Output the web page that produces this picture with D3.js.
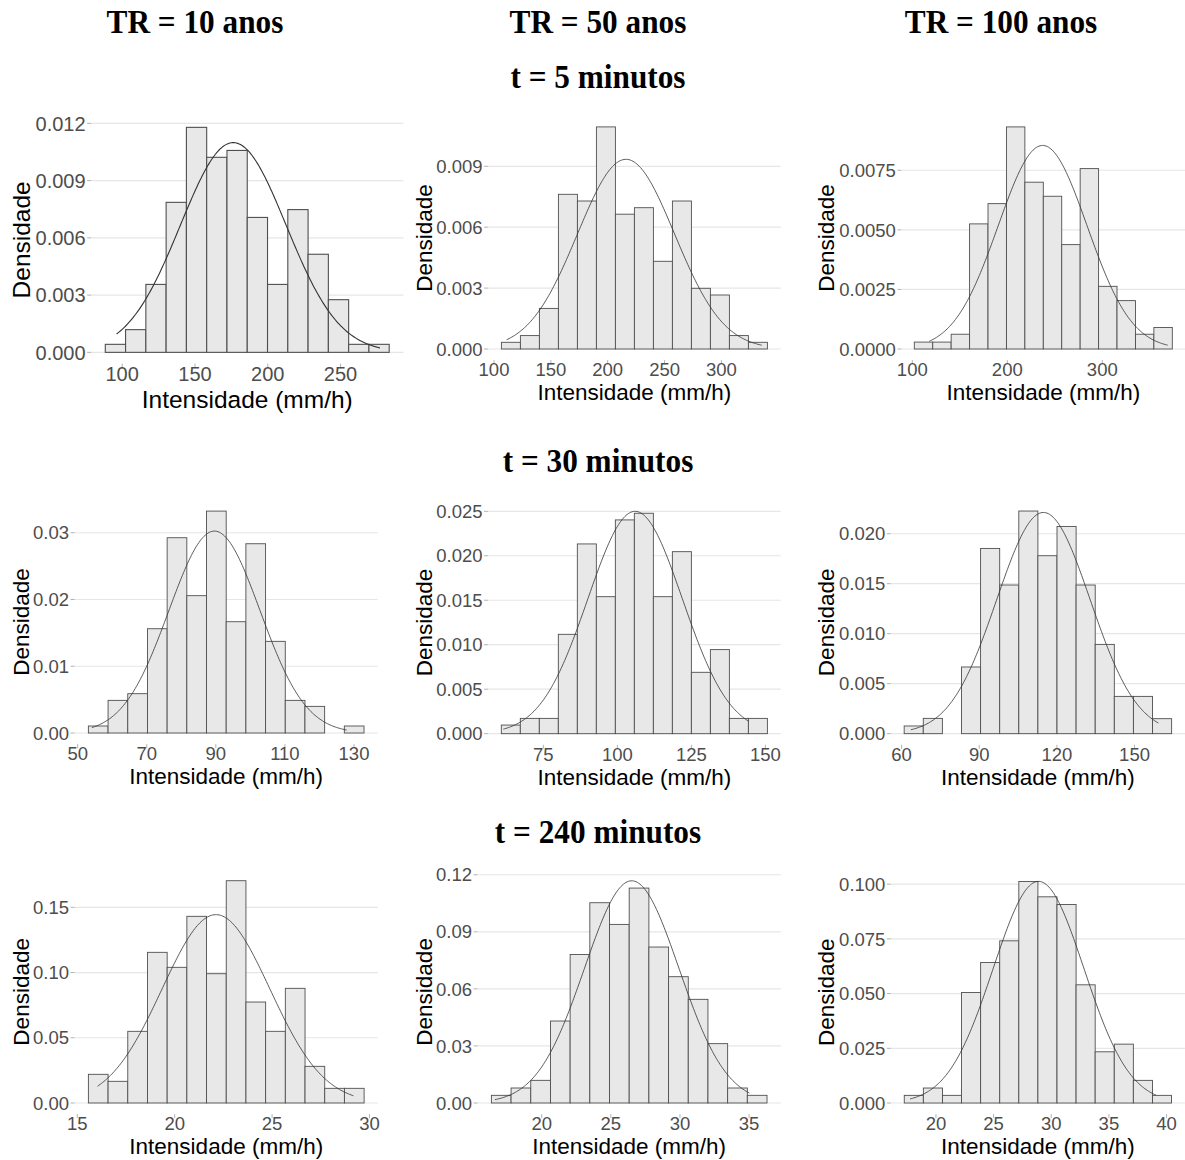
<!DOCTYPE html>
<html>
<head>
<meta charset="utf-8">
<script src="https://cdn.jsdelivr.net/npm/d3@7"></script>
<style>
  body { margin: 0; background: #ffffff; }
  svg { display: block; }
</style>
</head>
<body>
<svg id="chart" width="1185" height="1160"></svg>
<script>
// Column and row headings
const retornos = ["TR = 10 anos", "TR = 50 anos", "TR = 100 anos"];
const duracoes = ["t = 5 minutos", "t = 30 minutos", "t = 240 minutos"];

// Histogram bins: left edge of the first bin and bin width, per row (duration) and column (return period)
const binStart = [
  [88.4, 106.5, 102.1],
  [53.1, 60.8, 61.0],
  [15.57, 16.36, 17.25]
];
const binWidth = [
  [13.93, 16.71, 19.40],
  [5.70, 6.42, 7.38],
  [1.011, 1.424, 1.656]
];

// Density of each bin
const dens5min = [
  [0.00042, 0.00119, 0.00356, 0.00786, 0.01179, 0.01022, 0.01058, 0.00707, 0.00356, 0.00748, 0.00514, 0.00276, 0.00042, 0.00042],
  [0.00033, 0.00066, 0.00200, 0.00762, 0.00729, 0.01094, 0.00664, 0.00696, 0.00432, 0.00729, 0.00299, 0.00266, 0.00066, 0.00033],
  [0.00029, 0.00029, 0.00062, 0.00525, 0.00610, 0.00932, 0.00700, 0.00641, 0.00438, 0.00757, 0.00263, 0.00203, 0.00062, 0.00090]
];
const dens30min = [
  [0.00105, 0.00489, 0.00589, 0.01562, 0.02925, 0.02057, 0.03324, 0.01667, 0.02835, 0.01373, 0.00489, 0.00399, 0, 0.00105],
  [0.00097, 0.00172, 0.00172, 0.01117, 0.02133, 0.01540, 0.02403, 0.02478, 0.01540, 0.02046, 0.00690, 0.00945, 0.00172, 0.00172],
  [0.00077, 0.00153, 0, 0.00667, 0.01853, 0.01487, 0.02227, 0.01780, 0.02073, 0.01487, 0.00893, 0.00373, 0.00373, 0.00150]
];
const dens240min = [
  [0.02198, 0.01661, 0.05494, 0.1155, 0.1040, 0.1431, 0.0991, 0.1704, 0.0774, 0.05494, 0.0879, 0.0281, 0.01124, 0.01124],
  [0.00403, 0.00788, 0.01191, 0.0431, 0.0781, 0.1053, 0.0939, 0.1130, 0.0820, 0.0664, 0.0545, 0.0312, 0.00788, 0.00403],
  [0.0035, 0.00685, 0.0035, 0.0505, 0.0642, 0.0741, 0.1012, 0.0942, 0.0907, 0.0540, 0.0234, 0.0269, 0.01035, 0.0035]
];
const densidades = [dens5min, dens30min, dens240min];

// Fitted normal distribution: mean, standard deviation and the span of the sample
const media = [
  [176.3, 216.1, 237.2],
  [89.6, 106.0, 114.8],
  [22.12, 26.51, 28.9]
];
const desvio = [
  [36.3, 42.7, 46.7],
  [13.19, 15.96, 18.03],
  [2.763, 3.415, 3.94]
];
const minimo = [
  [96.2, 111.1, 117.9],
  [54.1, 61.5, 63.6],
  [16.04, 16.62, 17.75]
];
const maximo = [
  [277.1, 335.5, 368.8],
  [127.9, 144.3, 159.2],
  [29.18, 35.02, 39.08]
];

// Axis ticks
const xTicks = [
  [[100, 150, 200, 250], [100, 150, 200, 250, 300], [100, 200, 300]],
  [[50, 70, 90, 110, 130], [75, 100, 125, 150], [60, 90, 120, 150]],
  [[15, 20, 25, 30], [20, 25, 30, 35], [20, 25, 30, 35, 40]]
];
const yTicks = [
  [[0, 0.003, 0.006, 0.009, 0.012], [0, 0.003, 0.006, 0.009], [0, 0.0025, 0.005, 0.0075]],
  [[0, 0.01, 0.02, 0.03], [0, 0.005, 0.01, 0.015, 0.02, 0.025], [0, 0.005, 0.01, 0.015, 0.02]],
  [[0, 0.05, 0.1, 0.15], [0, 0.03, 0.06, 0.09, 0.12], [0, 0.025, 0.05, 0.075, 0.1]]
];
const yDecimals = [
  [3, 3, 4],
  [2, 3, 3],
  [2, 2, 3]
];

const xTitle = "Intensidade (mm/h)";
const yTitle = "Densidade";

// ---- Layout (pixels) ----
const boxes = [
  [[91.1, 403.4, 116.1, 363.6], [488.1, 780.7, 115.8, 360.1], [901.4, 1185.2, 115.8, 360.1]],
  [[74.6, 377.8, 500.0, 744.1], [488.0, 780.7, 500.2, 744.8], [890.8, 1185.0, 499.9, 744.8]],
  [[74.6, 377.9, 869.6, 1114.1], [477.6, 780.8, 869.7, 1114.1], [890.9, 1184.9, 870.3, 1114.1]]
];
const yTitleX = [21, 423.5, 826];
const headerX = [195, 598, 1001];
const headerY = 33;
const rowTitleY = [88, 472, 843];

const svg = d3.select("#chart");
const sans = "'Liberation Sans', Arial, Helvetica, sans-serif";
const serif = "'Liberation Serif', 'Times New Roman', serif";

function serifTitle(txt, cx, by) {
  svg.append("text")
    .attr("transform", `translate(${cx},${by}) scale(0.92,1)`)
    .attr("text-anchor", "middle")
    .attr("font-family", serif)
    .attr("font-weight", "bold")
    .attr("font-size", 34)
    .attr("fill", "#000")
    .text(txt);
}

retornos.forEach((t, i) => serifTitle(t, headerX[i], headerY));
duracoes.forEach((t, i) => serifTitle(t, 598, rowTitleY[i]));

const normalPdf = (x, m, s) => Math.exp(-0.5 * ((x - m) / s) ** 2) / (s * Math.sqrt(2 * Math.PI));

for (let r = 0; r < 3; r++) {
  for (let c = 0; c < 3; c++) {
    const [x0, x1, y0, y1] = boxes[r][c];
    const big = (r === 0 && c === 0);
    const tickFs = big ? 20 : 18.5;
    const titleFs = big ? 24.5 : 22.5;
    const dens = densidades[r][c];
    const start = binStart[r][c], w = binWidth[r][c];
    const end = start + w * dens.length;
    const m = media[r][c], s = desvio[r][c];

    const peak = Math.max(d3.max(dens), normalPdf(m, m, s));
    const pad = 0.05 * (end - start);
    const x = d3.scaleLinear().domain([start - pad, end + pad]).range([x0, x1]);
    const y = d3.scaleLinear().domain([-0.05 * peak, 1.05 * peak]).range([y1, y0]);

    const g = svg.append("g");

    // horizontal grid
    g.selectAll("line.grid").data(yTicks[r][c]).enter().append("line")
      .attr("x1", x0).attr("x2", x1)
      .attr("y1", d => y(d)).attr("y2", d => y(d))
      .attr("stroke", "#E6E6E6").attr("stroke-width", 1.2);

    // histogram bars
    const bins = dens.map((d, i) => ({ a: start + i * w, b: start + (i + 1) * w, d }));
    g.selectAll("rect").data(bins.filter(b => b.d > 0)).enter().append("rect")
      .attr("x", b => x(b.a))
      .attr("width", b => x(b.b) - x(b.a))
      .attr("y", b => y(b.d))
      .attr("height", b => y(0) - y(b.d))
      .attr("fill", "#E8E8E8")
      .attr("stroke", "#4F4F4F")
      .attr("stroke-width", big ? 1.1 : 0.9);

    // fitted normal curve
    const lo = minimo[r][c], hi = maximo[r][c];
    const pts = d3.range(0, 201).map(k => lo + (hi - lo) * k / 200);
    const line = d3.line().x(v => x(v)).y(v => y(normalPdf(v, m, s))).curve(d3.curveLinear);
    g.append("path").datum(pts)
      .attr("d", line)
      .attr("fill", "none")
      .attr("stroke", "#333333")
      .attr("stroke-width", big ? 1.1 : 0.8);

    // y axis ticks and labels
    const fmt = d3.format(`.${yDecimals[r][c]}f`);
    yTicks[r][c].forEach(t => {
      g.append("line").attr("x1", x0 - 4).attr("x2", x0)
        .attr("y1", y(t)).attr("y2", y(t))
        .attr("stroke", "#B3B3B3").attr("stroke-width", 1);
      g.append("text")
        .attr("x", x0 - 5.5).attr("y", y(t))
        .attr("dy", "0.36em")
        .attr("text-anchor", "end")
        .attr("font-family", sans).attr("font-size", tickFs)
        .attr("fill", "#4D4D4D")
        .text(fmt(t));
    });

    // x axis ticks and labels
    xTicks[r][c].forEach(t => {
      g.append("line").attr("x1", x(t)).attr("x2", x(t))
        .attr("y1", y1).attr("y2", y1 + 4)
        .attr("stroke", "#B3B3B3").attr("stroke-width", 1);
      g.append("text")
        .attr("x", x(t)).attr("y", y1 + 3 + tickFs * 0.72)
        .attr("text-anchor", "middle")
        .attr("font-family", sans).attr("font-size", tickFs)
        .attr("fill", "#4D4D4D")
        .text(t);
    });

    // axis titles
    g.append("text")
      .attr("x", (x0 + x1) / 2).attr("y", y1 + (big ? 44 : 40))
      .attr("text-anchor", "middle")
      .attr("font-family", sans).attr("font-size", titleFs)
      .attr("fill", "#000")
      .text(xTitle);
    g.append("text")
      .attr("transform", `translate(${yTitleX[c] + titleFs * 0.36},${(y0 + y1) / 2}) rotate(-90)`)
      .attr("text-anchor", "middle")
      .attr("font-family", sans).attr("font-size", titleFs)
      .attr("fill", "#000")
      .text(yTitle);
  }
}
</script>
</body>
</html>
